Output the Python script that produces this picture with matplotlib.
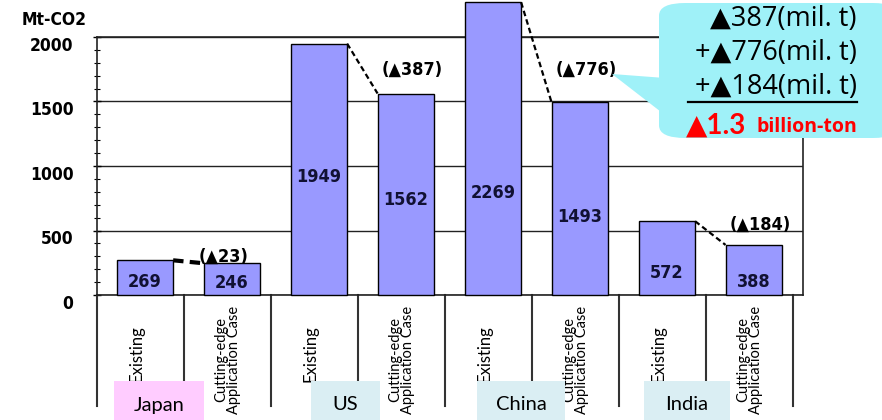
import matplotlib

matplotlib.use("Agg")
import matplotlib.pyplot as plt  # noqa: E402
from matplotlib.patches import FancyBboxPatch, Polygon, Rectangle  # noqa: E402
from matplotlib.transforms import ScaledTranslation  # noqa: E402

# data
countries = ["Japan", "US", "China", "India"]
cases = ["Existing", "Cutting-edge\nApplication Case"]
values = [269, 246, 1949, 1562, 2269, 1493, 572, 388]
reductions = [23, 387, 776, 184]
# where each value label sits inside its bar (data units)
label_y = [100, 93, 915, 736, 791, 605, 170, 100]

SANS = ["Lato", "DejaVu Sans"]
WIDE = ["Open Sans", "DejaVu Sans"]
BOLD = dict(family="DejaVu Sans", fontweight="bold", fontstretch="condensed")
BAR = "#9999ff"
CYAN = "#9ff1f8"

fig = plt.figure(figsize=(8.82, 4.20), dpi=100)
ax = fig.add_axes([97 / 882, 125 / 420, 706 / 882, 258 / 420])

xs = [i + 0.05 for i in range(len(values))]
bars = ax.bar(xs, values, width=0.65, color=BAR, edgecolor="black",
              linewidth=1.0, zorder=3, clip_on=False)

ax.set_xlim(-0.5, 7.615)
ax.set_ylim(0, 2000)
ax.set_xticks([])
ax.set_yticks(range(0, 2001, 500))
ax.set_yticks(range(0, 2001, 100), minor=True)
ax.tick_params(axis="y", which="major", direction="inout", length=6,
               width=1, pad=14)
ax.tick_params(axis="y", which="minor", direction="inout", length=4,
               width=0.8)
for lab in ax.get_yticklabels():
    lab.set_fontsize(12.5)
    lab.set_fontweight("bold")
    lab.set_fontstretch("condensed")
    lab.set_transform(lab.get_transform()
                      + ScaledTranslation(0, -7 / 100, fig.dpi_scale_trans))
for s in ax.spines.values():
    s.set_color("#222222")
    s.set_linewidth(1.2)
ax.yaxis.grid(True, color="#222222", linewidth=1.0, zorder=1)

# value labels inside the bars
for x, v, ly in zip(xs, values, label_y):
    ax.text(x, ly, str(v), ha="center", va="center", fontsize=13,
            color="#111133", zorder=4, **BOLD)

# dashed connectors + reduction labels
half = 0.65 / 2
red_pos = [(0.7, 257), (2.8, 70), (4.8, 70), (6.8, 225)]
for k, r in enumerate(reductions):
    a, b = 2 * k, 2 * k + 1
    lw = 3.0 if k == 0 else 1.6
    ax.plot([xs[a] + half, xs[b] - half], [values[a], values[b]],
            color="black", linestyle=(0, (2.5, 1.5)), linewidth=lw,
            zorder=5, clip_on=False)
    px, py = red_pos[k]
    fig.text((97 + (px + 0.5) * 87) / 882 - 0.003, 1 - py / 420,
             f"(\u25b2{r})", ha="left", va="center", fontsize=13, **BOLD)

# slot dividers below the axis
trans = ax.get_xaxis_transform()
for i in range(len(values) + 1):
    ax.plot([i - 0.5, i - 0.5], [0, -0.43], transform=trans,
            color="#333333", linewidth=1.5, clip_on=False)

# rotated case labels (bottom end fixed just above the country boxes)
for i in range(len(values)):
    even = i % 2 == 0
    ybot = (295 - (382 if even else 414)) / 258
    ax.text(i - (0.05 if even else 0.0), ybot, cases[i % 2],
            transform=trans, rotation=90,
            ha="center", va="bottom", fontsize=12 if even else 10.5,
            family=SANS, linespacing=0.95, zorder=6,
            bbox=dict(boxstyle="square,pad=0.1", fc="white", ec="none"))

# country boxes
boxes = [(114, 204, "#ffccff"), (311, 380, "#daeef3"),
         (477, 565, "#daeef3"), (644, 730, "#daeef3")]
for (x0, x1, c), name in zip(boxes, countries):
    fig.patches.append(Rectangle((x0 / 882, 0), (x1 - x0) / 882, 39 / 420,
                                 transform=fig.transFigure, fc=c, ec="none",
                                 zorder=7))
    fig.text((x0 + x1) / 2 / 882, 15 / 420, name, ha="center", va="center",
             fontsize=14.5, family=SANS, zorder=8)

# y-axis unit
fig.text(22 / 882, 1 - 20 / 420, "Mt-CO2", ha="left", va="center",
         fontsize=12.5, **BOLD)

# callout box
fig.patches.append(Polygon([(612 / 882, 1 - 74 / 420), (665 / 882, 1 - 78 / 420),
                            (665 / 882, 1 - 115 / 420)], closed=True,
                           transform=fig.transFigure, fc=CYAN, ec="none",
                           zorder=9))
fig.patches.append(FancyBboxPatch((659 / 882, 1 - 138 / 420), 240 / 882,
                                  135 / 420,
                                  boxstyle="round,pad=0,rounding_size=0.03",
                                  transform=fig.transFigure, fc=CYAN,
                                  ec="none", zorder=9))
rx = 857 / 882
lines = ["\u25b2387(mil. t)", "+\u25b2776(mil. t)", "+\u25b2184(mil. t)"]
for ly, t in zip([19, 53, 87], lines):
    fig.text(rx, 1 - ly / 420, t, ha="right", va="center", fontsize=19.5,
             family=WIDE, zorder=10)
fig.add_artist(plt.Line2D([688 / 882, rx], [1 - 102 / 420] * 2,
                          transform=fig.transFigure, color="black",
                          linewidth=1.6, zorder=10))
fig.text(rx, 1 - 127 / 420, "billion-ton", ha="right", va="center",
         fontsize=14, family=WIDE, fontweight="bold", color="#ff0000",
         zorder=10)
fig.text(686 / 882, 1 - 126 / 420, "\u25b21.3", ha="left", va="center",
         fontsize=20, family=SANS, fontweight="bold", color="#ff0000",
         zorder=10)

fig.savefig("out.png", dpi=100)
